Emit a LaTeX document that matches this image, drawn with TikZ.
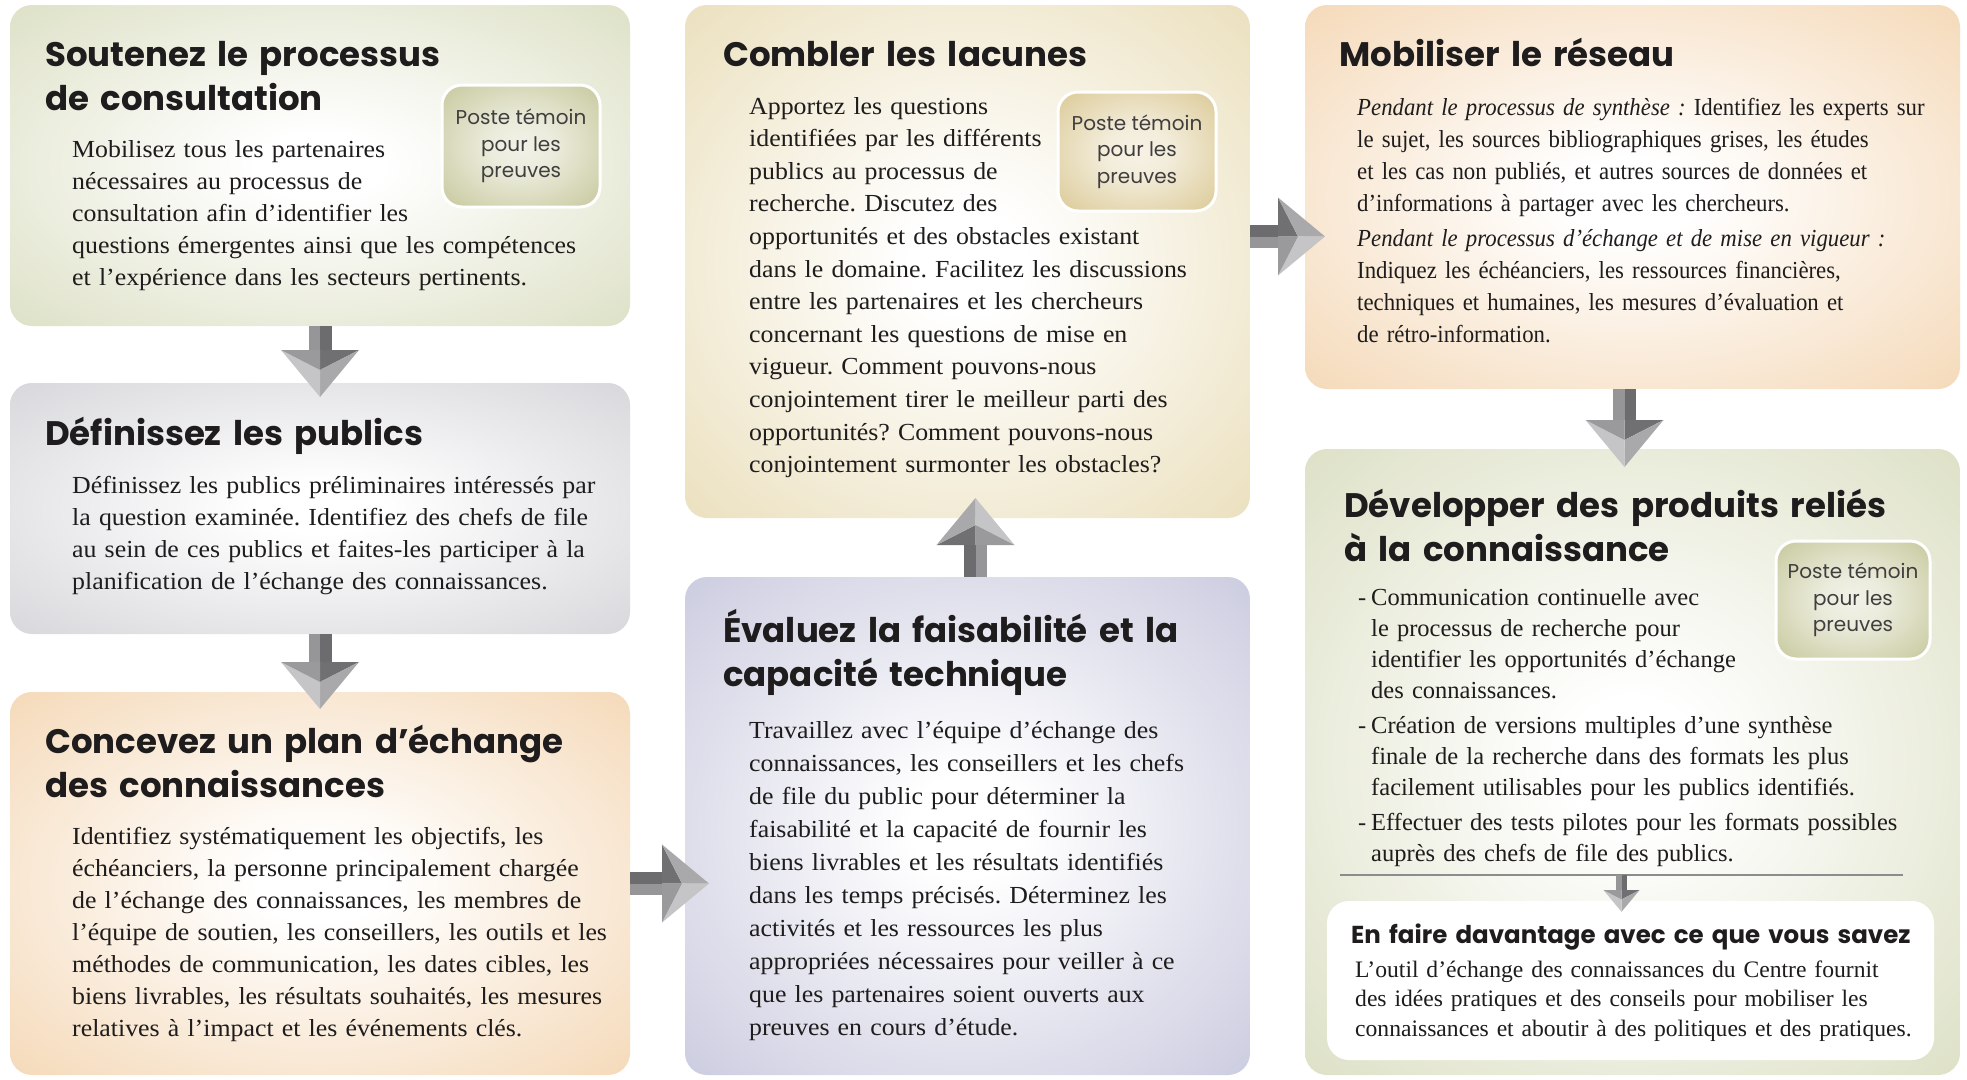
\documentclass[tikz,border=0pt]{standalone}
\usepackage{fontspec}
\setmainfont[FakeStretch=1.055]{Liberation Serif}
\newfontfamily\plainfont{Liberation Serif}
\newfontfamily\condfont[FakeStretch=0.93]{Liberation Serif}
\newfontfamily\titlefont{Poppins}
\usetikzlibrary{calc}

\definecolor{cGreen}{RGB}{206,211,172}
\definecolor{cGrey}{RGB}{196,197,202}
\definecolor{cPeach}{RGB}{240,200,152}
\definecolor{cLav}{RGB}{180,180,210}
\definecolor{cTan}{RGB}{226,210,160}
\definecolor{pGreen}{RGB}{178,180,120}
\definecolor{pTan}{RGB}{206,182,112}
\definecolor{arrA}{RGB}{108,108,111}
\definecolor{arrB}{RGB}{150,150,153}
\definecolor{arrC}{RGB}{112,112,115}
\definecolor{arrD}{RGB}{169,169,172}
\definecolor{arrE}{RGB}{197,197,199}
\definecolor{arrF}{RGB}{154,154,157}
\definecolor{ink}{RGB}{30,28,28}

\pgfdeclareradialshading{shGreen}{\pgfpoint{0bp}{0bp}}{color(0bp)=(white); color(5bp)=(white); color(50bp)=(cGreen); color(72bp)=(cGreen)}
\pgfdeclareradialshading{shGrey}{\pgfpoint{0bp}{0bp}}{color(0bp)=(white); color(5bp)=(white); color(50bp)=(cGrey); color(72bp)=(cGrey)}
\pgfdeclareradialshading{shPeach}{\pgfpoint{0bp}{0bp}}{color(0bp)=(white); color(5bp)=(white); color(50bp)=(cPeach); color(72bp)=(cPeach)}
\pgfdeclareradialshading{shLav}{\pgfpoint{0bp}{0bp}}{color(0bp)=(white); color(5bp)=(white); color(50bp)=(cLav); color(72bp)=(cLav)}
\pgfdeclareradialshading{shTan}{\pgfpoint{0bp}{0bp}}{color(0bp)=(white); color(5bp)=(white); color(50bp)=(cTan); color(72bp)=(cTan)}
\pgfdeclareradialshading{shPGreen}{\pgfpoint{0bp}{0bp}}{color(0bp)=(white!82!pGreen); color(10bp)=(white!75!pGreen); color(50bp)=(pGreen); color(72bp)=(pGreen)}
\pgfdeclareradialshading{shPTan}{\pgfpoint{0bp}{0bp}}{color(0bp)=(white!82!pTan); color(10bp)=(white!75!pTan); color(50bp)=(pTan); color(72bp)=(pTan)}

% 3D arrow: [scale]{start}{rotation}{length}
\newcommand\bigarrow[4][1]{%
  \begin{scope}[shift={#2},rotate=#3,scale=#1]
    \fill[arrA] (0,-11.5) rectangle ({#4-47},0);
    \fill[arrB] (0,0) rectangle ({#4-47},11.5);
    \fill[arrC] ({#4-47},-39) -- ({#4-27},0) -- ({#4-47},0) -- cycle;
    \fill[arrD] ({#4-47},-39) -- (#4,0) -- ({#4-27},0) -- cycle;
    \fill[arrE] ({#4-47},39) -- (#4,0) -- ({#4-27},0) -- cycle;
    \fill[arrF] ({#4-47},39) -- ({#4-27},0) -- ({#4-47},0) -- cycle;
  \end{scope}}

\newcommand\bul{\leavevmode\llap{-\hspace{5pt}}}

\tikzset{
  box/.style={rounded corners=22pt, inner sep=0pt, outer sep=0pt, anchor=north west},
  sbox/.style={box, shade},
  poste/.style={rounded corners=20pt, draw=white, line width=3pt, inner sep=0pt, outer sep=0pt,
    shade, align=center, text=ink!85, font=\titlefont\fontsize{20}{26.5}\selectfont},
  ttl/.style={anchor=base west, inner sep=0pt, text width=760pt, align=left, text=ink,
    font=\titlefont\bfseries\fontsize{34}{44.5}\selectfont},
  body/.style={anchor=base west, inner sep=0pt, text width=760pt, align=left, text=ink,
    font=\frenchspacing\fontsize{24.5}{32}\selectfont},
}

\begin{document}
\begin{tikzpicture}[x=1pt,y=-1pt]
\useasboundingbox (0,0) rectangle (1967,1079);
\fill[white] (0,0) rectangle (1967,1079);

% ---------- boxes ----------
\node[sbox, shading=shGreen, minimum width=620pt, minimum height=321pt] (b1) at (10,5) {};
\node[sbox, shading=shGrey,  minimum width=620pt, minimum height=251pt] (b2) at (10,383) {};
\node[sbox, shading=shPeach, minimum width=620pt, minimum height=383pt] (b3) at (10,692) {};
\node[sbox, shading=shLav,   minimum width=565pt, minimum height=498pt] (b4) at (685,577) {};
\node[sbox, shading=shTan,   minimum width=565pt, minimum height=513pt] (b5) at (685,5) {};
\node[sbox, shading=shPeach, minimum width=655pt, minimum height=384pt] (b6) at (1305,5) {};
\node[sbox, shading=shGreen, minimum width=655pt, minimum height=626pt] (b7) at (1305,449) {};
\node[box, fill=white, minimum width=607pt, minimum height=159pt] (b8) at (1327,901) {};

% ---------- evidence badges ----------
\node[poste, shading=shPGreen, minimum width=158pt, minimum height=122pt] (p1) at (521,146) {Poste témoin\\pour les\\preuves};
\node[poste, shading=shPTan,   minimum width=158pt, minimum height=119pt] (p5) at (1137,151.5) {Poste témoin\\pour les\\preuves};
\node[poste, shading=shPGreen, minimum width=154pt, minimum height=118pt] (p7) at (1853,600) {Poste témoin\\pour les\\preuves};

% ---------- box 1 ----------
\node[ttl] (t1) at (45,66) {Soutenez le processus\\de consultation};
\node[body] (x1) at (72,157) {Mobilisez tous les partenaires\\
nécessaires au processus de\\
consultation afin d’identifier les\\
questions émergentes ainsi que les compétences\\
et l’expérience dans les secteurs pertinents.};

% ---------- box 2 ----------
\node[ttl] (t2) at (45,445) {Définissez les publics};
\node[body] (x2) at (72,493) {Définissez les publics préliminaires intéressés par\\
la question examinée. Identifiez des chefs de file\\
au sein de ces publics et faites-les participer à la\\
planification de l’échange des connaissances.};

% ---------- box 3 ----------
\node[ttl] (t3) at (45,753) {Concevez un plan d’échange\\des connaissances};
\node[body] (x3) at (72,844) {Identifiez systématiquement les objectifs, les\\
échéanciers, la personne principalement chargée\\
de l’échange des connaissances, les membres de\\
l’équipe de soutien, les conseillers, les outils et les\\
méthodes de communication, les dates cibles, les\\
biens livrables, les résultats souhaités, les mesures\\
relatives à l’impact et les événements clés.};

% ---------- box 5 ----------
\node[ttl] (t5) at (723,66) {Combler les lacunes};
\node[body, font=\frenchspacing\fontsize{24.5}{32.6}\selectfont] (x5) at (749,114) {Apportez les questions\\
identifiées par les différents\\
publics au processus de\\
recherche. Discutez des\\
opportunités et des obstacles existant\\
dans le domaine. Facilitez les discussions\\
entre les partenaires et les chercheurs\\
concernant les questions de mise en\\
vigueur. Comment pouvons-nous\\
conjointement tirer le meilleur parti des\\
opportunités? Comment pouvons-nous\\
conjointement surmonter les obstacles?};

% ---------- box 4 ----------
\node[ttl] (t4) at (723,642) {Évaluez la faisabilité et la\\capacité technique};
\node[body, font=\frenchspacing\fontsize{24.5}{33.1}\selectfont] (x4) at (749,738) {Travaillez avec l’équipe d’échange des\\
connaissances, les conseillers et les chefs\\
de file du public pour déterminer la\\
faisabilité et la capacité de fournir les\\
biens livrables et les résultats identifiés\\
dans les temps précisés. Déterminez les\\
activités et les ressources les plus\\
appropriées nécessaires pour veiller à ce\\
que les partenaires soient ouverts aux\\
preuves en cours d’étude.};

% ---------- box 6 ----------
\node[ttl] (t6) at (1339,66) {Mobiliser le réseau};
\node[body, font=\frenchspacing\condfont\fontsize{24.5}{32}\selectfont] (x6) at (1357,115) {\textit{Pendant le processus de synthèse :} Identifiez les experts sur\\
le sujet, les sources bibliographiques grises, les études\\
et les cas non publiés, et autres sources de données et\\
d’informations à partager avec les chercheurs.\\[3pt]
\textit{Pendant le processus d’échange et de mise en vigueur :}\\
Indiquez les échéanciers, les ressources financières,\\
techniques et humaines, les mesures d’évaluation et\\
de rétro-information.};

% ---------- box 7 ----------
\node[ttl] (t7) at (1344,517) {Développer des produits reliés\\à la connaissance};
\node[body, font=\frenchspacing\plainfont\fontsize{24.5}{31.1}\selectfont] (x7) at (1371,605) {\bul Communication continuelle avec\\
le processus de recherche pour\\
identifier les opportunités d’échange\\
des connaissances.\\[4pt]
\bul Création de versions multiples d’une synthèse\\
finale de la recherche dans des formats les plus\\
facilement utilisables pour les publics identifiés.\\[4pt]
\bul Effectuer des tests pilotes pour les formats possibles\\
auprès des chefs de file des publics.};
\coordinate (l1) at (1340,875);
\coordinate (l2) at (1903,875);
\draw[black!45, line width=1.3pt] (l1) -- (l2);

% ---------- white box ----------
\node[ttl, font=\titlefont\bfseries\fontsize{24.5}{30}\selectfont] (t8) at (1351,943) {En faire davantage avec ce que vous savez};
\node[body, font=\frenchspacing\plainfont\fontsize{23.6}{29.5}\selectfont] (x8) at (1355,977) {L’outil d’échange des connaissances du Centre fournit\\
des idées pratiques et des conseils pour mobiliser les\\
connaissances et aboutir à des politiques et des pratiques.};

% ---------- arrows ----------
\bigarrow{(b1.south)}{-90}{71}
\bigarrow{(b2.south)}{-90}{75}
\bigarrow{(b3.east)}{0}{79}
\bigarrow{([xshift=8pt]b4.north)}{90}{79}
\bigarrow{([yshift=25pt]b5.east)}{0}{75}
\bigarrow{([xshift=-8pt]b6.south)}{-90}{78}
\bigarrow[0.46]{($(l1)!0.5!(l2)$)}{-90}{80}
\end{tikzpicture}
\end{document}
